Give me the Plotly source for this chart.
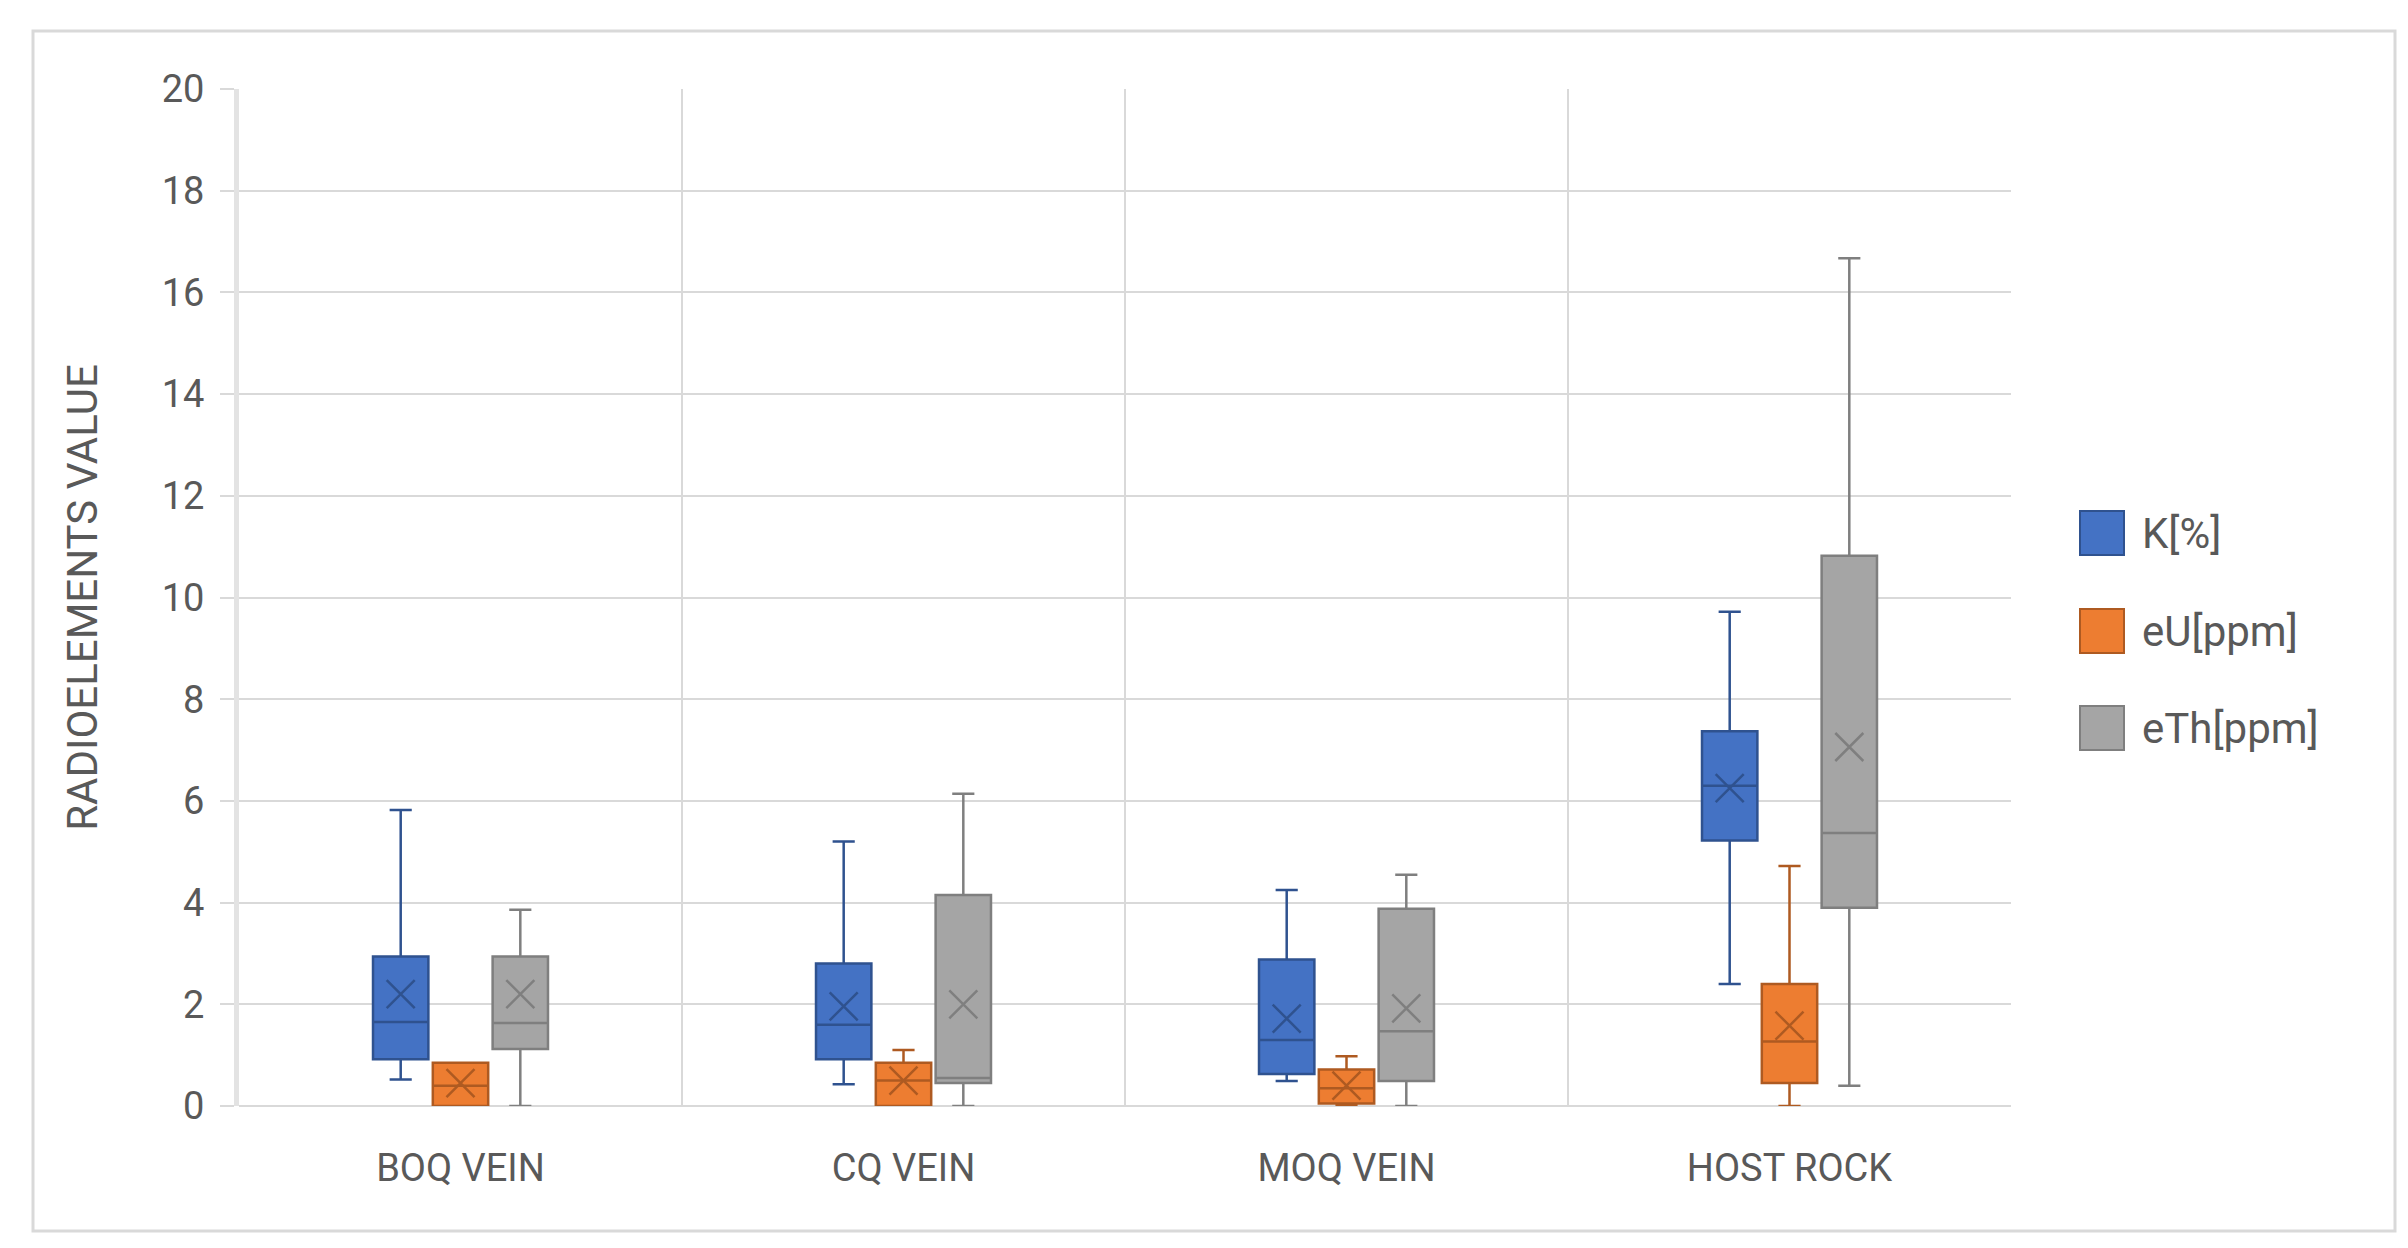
import plotly.graph_objects as go

categories = ["BOQ VEIN", "CQ VEIN", "MOQ VEIN", "HOST ROCK"]
series_names = ["K[%]", "eU[ppm]", "eTh[ppm]"]

k_low = [0.52, 0.43, 0.49, 2.40]
k_q1 = [0.92, 0.92, 0.63, 5.22]
k_med = [1.65, 1.60, 1.30, 6.30]
k_q3 = [2.94, 2.80, 2.88, 7.37]
k_high = [5.82, 5.20, 4.25, 9.72]
k_mean = [2.20, 1.96, 1.72, 6.25]

u_low = [0.00, 0.00, 0.00, 0.00]
u_q1 = [0.00, 0.00, 0.05, 0.45]
u_med = [0.40, 0.50, 0.35, 1.27]
u_q3 = [0.85, 0.85, 0.72, 2.40]
u_high = [0.85, 1.10, 0.98, 4.72]
u_mean = [0.45, 0.50, 0.40, 1.58]

th_low = [0.00, 0.00, 0.00, 0.40]
th_q1 = [1.12, 0.45, 0.49, 3.90]
th_med = [1.63, 0.55, 1.47, 5.37]
th_q3 = [2.94, 4.15, 3.88, 10.82]
th_high = [3.86, 6.14, 4.55, 16.67]
th_mean = [2.20, 2.00, 1.92, 7.06]

y_ticks = [0, 2, 4, 6, 8, 10, 12, 14, 16, 18, 20]

stats = [
    (k_low, k_q1, k_med, k_q3, k_high, k_mean),
    (u_low, u_q1, u_med, u_q3, u_high, u_mean),
    (th_low, th_q1, th_med, th_q3, th_high, th_mean),
]
fills = ["#4472C4", "#ED7D31", "#A5A5A5"]
edges = ["#2F528F", "#AE5A21", "#7F7F7F"]

FONT = "Roboto"
TXT = "#595959"

slot = 0.135
box_w = 0.125

fig = go.Figure()
for k, (name, st) in enumerate(zip(series_names, stats)):
    low, q1, med, q3, high, mean = st
    xs = [i + (k - 1) * slot for i in range(len(categories))]
    fig.add_trace(go.Box(
        name=name, x=xs, q1=q1, median=med, q3=q3,
        lowerfence=low, upperfence=high,
        width=box_w, whiskerwidth=0.4,
        fillcolor=fills[k], line=dict(color=edges[k], width=2.5),
        showlegend=False,
    ))
    fig.add_trace(go.Scatter(
        x=xs, y=mean, mode="markers", showlegend=False, name=name + " mean",
        marker=dict(symbol="x-thin", size=28, line=dict(color=edges[k], width=2.5)),
        hoverinfo="skip",
    ))

# geometry in pixels
W, H = 2408, 1248
L, R, T, B = 231, 405, 81, 150
pw, ph = W - L - R, H - T - B

def px_x(p):
    return (p - L) / pw

def px_y(p):
    return (H - B - p) / ph

shapes = [dict(
    type="rect", xref="paper", yref="paper",
    x0=px_x(25), x1=px_x(2387), y0=px_y(1223), y1=px_y(23),
    line=dict(color="#d9d9d9", width=3), fillcolor="rgba(0,0,0,0)",
    layer="below",
)]
annotations = []
legend_centers = [525, 623, 720]
for k, name in enumerate(series_names):
    cy = legend_centers[k]
    shapes.append(dict(
        type="rect", xref="paper", yref="paper",
        x0=px_x(2072), x1=px_x(2116), y0=px_y(cy + 22), y1=px_y(cy - 22),
        line=dict(color=edges[k], width=2), fillcolor=fills[k],
    ))
    annotations.append(dict(
        text=name, xref="paper", yref="paper", x=px_x(2132), y=px_y(cy),
        xanchor="left", yanchor="middle", showarrow=False,
        font=dict(family=FONT, size=42, color=TXT),
    ))

fig.update_layout(
    width=W, height=H,
    margin=dict(l=L, r=R, t=T, b=B),
    paper_bgcolor="white", plot_bgcolor="white",
    font=dict(family=FONT, color=TXT, size=38),
    boxmode="overlay",
    showlegend=False,
    shapes=shapes,
    annotations=annotations,
)

fig.update_xaxes(
    range=[-0.5, len(categories) - 0.5],
    tickmode="array", tickvals=list(range(len(categories))), ticktext=categories,
    showgrid=False, zeroline=False, ticks="",
    tickfont=dict(size=38, color=TXT, family=FONT),
    ticklabelstandoff=36,
    minor=dict(tickmode="array", tickvals=[i - 0.5 for i in range(len(categories) + 1)],
               showgrid=True, gridcolor="#d9d9d9", gridwidth=2, ticks=""),
    showline=False,
)
fig.update_yaxes(
    range=[0, 20], tickvals=y_ticks,
    showgrid=True, gridcolor="#d9d9d9", gridwidth=2,
    zeroline=True, zerolinecolor="#d9d9d9", zerolinewidth=2,
    ticks="outside", ticklen=14, tickcolor="#d9d9d9", tickwidth=2,
    ticklabelstandoff=8,
    showline=True, linecolor="#e3e3e3", linewidth=5,
    tickfont=dict(size=38, color=TXT, family=FONT),
    title=dict(text="RADIOELEMENTS VALUE", font=dict(size=42, color=TXT, family=FONT),
               standoff=52),
)

fig.write_html("out.html")
